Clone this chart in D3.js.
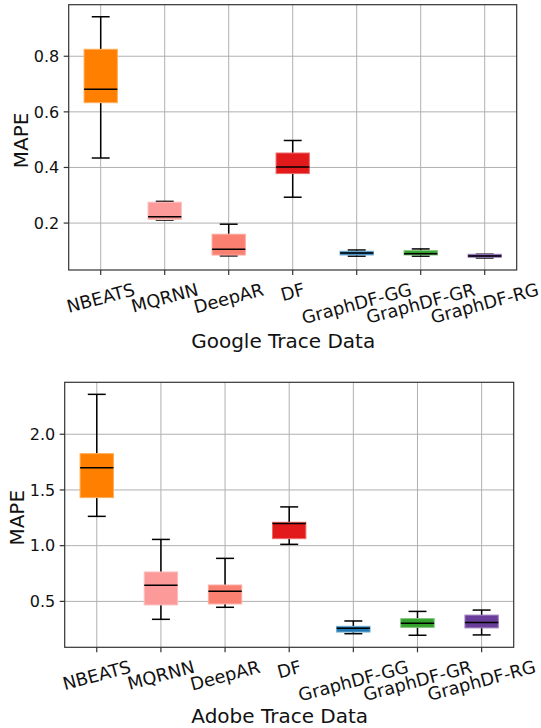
<!DOCTYPE html>
<html>
<head>
<meta charset="utf-8">
<script src="https://cdn.jsdelivr.net/npm/d3@7"></script>
<style>
  html, body { margin: 0; padding: 0; background: #fff; }
  svg { display: block; font-family: "DejaVu Sans", sans-serif; }
</style>
</head>
<body>
<svg id="chart" width="541" height="728"></svg>
<script>
// models shown on both panels
const models = ['NBEATS', 'MQRNN', 'DeepAR', 'DF', 'GraphDF-GG', 'GraphDF-GR', 'GraphDF-RG'];
const boxColors = ['#ff7f00', '#fb9a99', '#fa8072', '#e31a1c', '#1f78b4', '#33a02c', '#6a3d9a'];

// Google trace: whisker low, Q1, median, Q3, whisker high
const googleLow  = [0.434, 0.211, 0.082, 0.293, 0.081, 0.081, 0.0746];
const googleQ1   = [0.633, 0.213, 0.085, 0.378, 0.0853, 0.0853, 0.077];
const googleMed  = [0.681, 0.2225, 0.106, 0.402, 0.0925, 0.090, 0.0817];
const googleQ3   = [0.825, 0.275, 0.160, 0.452, 0.0986, 0.1007, 0.0878];
const googleHigh = [0.942, 0.278, 0.196, 0.497, 0.1032, 0.107, 0.088];
const googleTicks = [0.2, 0.4, 0.6, 0.8];

// Adobe trace
const adobeLow  = [1.263, 0.339, 0.447, 1.012, 0.210, 0.196, 0.199];
const adobeQ1   = [1.431, 0.468, 0.477, 1.063, 0.225, 0.267, 0.262];
const adobeMed  = [1.700, 0.644, 0.590, 1.198, 0.258, 0.303, 0.310];
const adobeQ3   = [1.826, 0.764, 0.647, 1.210, 0.276, 0.345, 0.377];
const adobeHigh = [2.358, 1.056, 0.886, 1.348, 0.324, 0.410, 0.422];
const adobeTicks = [0.5, 1.0, 1.5, 2.0];

const svg = d3.select('#chart');
const yTickSize = 16;
const xTickSize = 17.8;
const xTickAngle = 15;

function drawPanel(opts) {
    const { left, right, top, bottom, low, q1, med, q3, high, ticks, xTitle, titleGap } = opts;
    const g = svg.append('g');

    const x = d3.scaleLinear().domain([0.5, models.length + 0.5]).range([left, right]);
    // matplotlib-style autoscale: data range with 5% margins
    const lo = d3.min(low), hi = d3.max(high);
    const pad = (hi - lo) * 0.05;
    const y = d3.scaleLinear().domain([lo - pad, hi + pad]).range([bottom, top]);

    // grid
    g.append('g').selectAll('line').data(ticks).join('line')
        .attr('x1', left).attr('x2', right)
        .attr('y1', d => y(d)).attr('y2', d => y(d))
        .attr('stroke', '#b0b0b0').attr('stroke-width', 1);
    g.append('g').selectAll('line').data(models).join('line')
        .attr('x1', (d, i) => x(i + 1)).attr('x2', (d, i) => x(i + 1))
        .attr('y1', top).attr('y2', bottom)
        .attr('stroke', '#b0b0b0').attr('stroke-width', 1);

    const boxHalf = 0.26, capHalf = 0.14;
    const boxes = g.append('g').selectAll('g').data(models).join('g');

    // whiskers
    boxes.append('line')
        .attr('x1', (d, i) => x(i + 1)).attr('x2', (d, i) => x(i + 1))
        .attr('y1', (d, i) => y(q3[i])).attr('y2', (d, i) => y(high[i]))
        .attr('stroke', '#000').attr('stroke-width', 1.5);
    boxes.append('line')
        .attr('x1', (d, i) => x(i + 1)).attr('x2', (d, i) => x(i + 1))
        .attr('y1', (d, i) => y(q1[i])).attr('y2', (d, i) => y(low[i]))
        .attr('stroke', '#000').attr('stroke-width', 1.5);
    // caps
    [high, low].forEach(arr => {
        boxes.append('line')
            .attr('x1', (d, i) => x(i + 1 - capHalf)).attr('x2', (d, i) => x(i + 1 + capHalf))
            .attr('y1', (d, i) => y(arr[i])).attr('y2', (d, i) => y(arr[i]))
            .attr('stroke', '#000').attr('stroke-width', 1.5);
    });
    // box
    boxes.append('rect')
        .attr('x', (d, i) => x(i + 1 - boxHalf))
        .attr('width', x(1 + boxHalf) - x(1 - boxHalf))
        .attr('y', (d, i) => y(q3[i]))
        .attr('height', (d, i) => Math.max(0.5, y(q1[i]) - y(q3[i])))
        .attr('fill', (d, i) => boxColors[i])
        .attr('stroke', (d, i) => d3.interpolateRgb(boxColors[i], '#ffffff')(0.35))
        .attr('stroke-width', 1);
    // median
    boxes.append('line')
        .attr('x1', (d, i) => x(i + 1 - boxHalf)).attr('x2', (d, i) => x(i + 1 + boxHalf))
        .attr('y1', (d, i) => y(med[i])).attr('y2', (d, i) => y(med[i]))
        .attr('stroke', '#000').attr('stroke-width', 1.5);

    // frame
    g.append('rect')
        .attr('x', left).attr('y', top)
        .attr('width', right - left).attr('height', bottom - top)
        .attr('fill', 'none').attr('stroke', '#333').attr('stroke-width', 1.2);

    // y axis ticks + labels
    const yt = g.append('g');
    yt.selectAll('line').data(ticks).join('line')
        .attr('x1', left - 5).attr('x2', left)
        .attr('y1', d => y(d)).attr('y2', d => y(d))
        .attr('stroke', '#333').attr('stroke-width', 1.2);
    yt.selectAll('text').data(ticks).join('text')
        .attr('x', left - 9.5).attr('y', d => y(d))
        .attr('dy', '0.36em')
        .attr('text-anchor', 'end')
        .attr('font-size', yTickSize).attr('fill', '#111')
        .text(d3.format('.1f'));

    // x axis ticks + rotated labels (centred, top of rotated box under the tick)
    const xt = g.append('g');
    xt.selectAll('line').data(models).join('line')
        .attr('x1', (d, i) => x(i + 1)).attr('x2', (d, i) => x(i + 1))
        .attr('y1', bottom).attr('y2', bottom + 5)
        .attr('stroke', '#333').attr('stroke-width', 1.2);
    const rot = xTickAngle * Math.PI / 180;
    const lineH = xTickSize * 1.164;
    const labelTop = bottom + 9;
    xt.selectAll('text').data(models).join('text')
        .attr('text-anchor', 'middle')
        .attr('font-size', xTickSize).attr('fill', '#111')
        .attr('y', xTickSize * 0.346)
        .text(d => d)
        .each(function (d, i) {
            const w = this.getComputedTextLength();
            const rotH = w * Math.sin(rot) + lineH * Math.cos(rot);
            d3.select(this).attr('transform',
                `translate(${x(i + 1)},${labelTop + rotH / 2}) rotate(${-xTickAngle})`);
        });

    // axis titles
    g.append('text')
        .attr('x', (left + right) / 2 - 9.5).attr('y', bottom + titleGap)
        .attr('text-anchor', 'middle')
        .attr('font-size', 20).attr('fill', '#111')
        .text(xTitle);
    g.append('text')
        .attr('transform', `translate(${left - 41},${(top + bottom) / 2 + 3}) rotate(-90)`)
        .attr('text-anchor', 'middle')
        .attr('font-size', 20).attr('fill', '#111')
        .text('MAPE');
}

drawPanel({
    left: 68.7, right: 516.7, top: 4.7, bottom: 270,
    low: googleLow, q1: googleQ1, med: googleMed, q3: googleQ3, high: googleHigh,
    ticks: googleTicks, xTitle: 'Google Trace Data', titleGap: 77.5
});
drawPanel({
    left: 64.7, right: 513.7, top: 382.3, bottom: 647.3,
    low: adobeLow, q1: adobeQ1, med: adobeMed, q3: adobeQ3, high: adobeHigh,
    ticks: adobeTicks, xTitle: 'Adobe Trace Data', titleGap: 75.5
});
</script>
</body>
</html>
